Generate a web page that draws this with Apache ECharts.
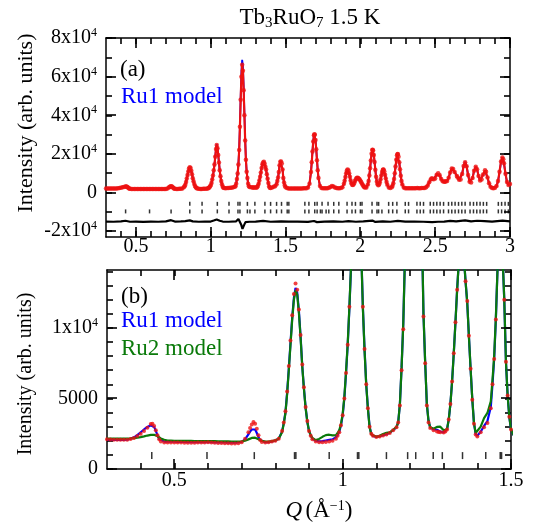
<!DOCTYPE html>
<html><head><meta charset="utf-8">
<script src="https://cdn.jsdelivr.net/npm/echarts@6/dist/echarts.min.js"></script>
<style>html,body{margin:0;padding:0;background:#fff}#c{width:539px;height:527px}</style>
</head><body><div id="c"></div>
<script>
// ---------- DATA ----------
const observed = [
[0.30,2100],[0.31,2090],[0.32,2080],[0.33,2070],[0.34,2070],[0.35,2075],[0.36,2080],[0.37,2120],[0.38,2200],[0.39,2330],[0.40,2500],[0.41,2700],[0.42,2930],[0.43,3180],[0.435,3200],[0.44,3050],[0.445,2750],[0.45,2400],[0.455,2100],[0.46,1950],[0.47,1880],[0.48,1870],[0.49,1880],[0.50,1880],[0.51,1870],[0.52,1870],[0.53,1860],[0.54,1860],[0.55,1860],[0.56,1865],[0.57,1870],[0.58,1870],[0.59,1880],[0.60,1890],[0.61,1870],[0.62,1860],[0.63,1850],[0.64,1840],[0.65,1830],[0.66,1820],[0.67,1810],[0.68,1810],[0.69,1830],[0.70,1900],[0.71,2150],[0.72,2600],[0.725,2900],[0.73,3150],[0.735,3330],[0.74,3200],[0.745,2850],[0.75,2400],[0.755,2050],[0.76,1920],[0.77,1880],[0.78,1900],[0.79,1950],[0.80,2000],[0.81,2150],[0.82,2700],[0.825,3300],[0.83,4100],[0.835,5500],[0.84,7300],[0.845,9100],[0.85,10900],[0.855,12400],[0.86,13150],[0.865,12700],[0.87,11300],[0.875,9500],[0.88,7400],[0.885,5800],[0.89,4400],[0.895,3400],[0.90,2700],[0.905,2350],[0.91,2100],[0.92,1950],[0.93,1900],[0.94,1900],[0.95,1920],[0.96,1950],[0.97,2000],[0.98,2150],[0.985,2350],[0.99,2600],[0.995,3100],[1.00,3800],[1.005,5000],[1.01,6800],[1.015,8800],[1.02,11500],[1.025,14500],[1.03,18500],[1.035,22500],[1.04,24600],[1.045,23000],[1.05,19500],[1.055,15500],[1.06,11500],[1.065,8500],[1.07,6000],[1.075,4300],[1.08,3000],[1.085,2500],[1.09,2350],[1.10,2260],[1.11,2300],[1.12,2380],[1.13,2450],[1.14,2550],[1.15,2750],[1.16,2950],[1.165,3300],[1.17,4500],[1.175,7000],[1.18,9900],[1.185,14500],[1.19,22000],[1.195,34000],[1.20,48000],[1.205,60000],[1.21,66100],[1.215,63000],[1.22,53000],[1.225,40000],[1.23,27000],[1.235,17000],[1.24,10800],[1.245,7500],[1.25,4500],[1.255,3300],[1.26,2900],[1.27,2750],[1.28,2650],[1.285,2620],[1.29,2600],[1.30,2580],[1.305,2650],[1.31,2800],[1.315,3500],[1.32,4600],[1.325,6200],[1.33,8200],[1.335,10400],[1.34,12700],[1.345,14600],[1.35,15600],[1.355,15900],[1.36,14900],[1.365,13300],[1.37,11900],[1.375,9450],[1.38,7100],[1.385,4900],[1.39,3200],[1.395,2450],[1.40,2300],[1.41,2600],[1.42,2950],[1.43,3260],[1.44,4300],[1.445,6000],[1.45,7800],[1.455,10600],[1.46,14200],[1.465,15900],[1.47,16100],[1.475,15000],[1.48,12000],[1.485,7600],[1.49,5200],[1.495,3700],[1.50,2800],[1.51,2300],[1.52,2150],
[1.53,2150],[1.54,2120],[1.55,2100],[1.56,2100],[1.57,2100],[1.58,2120],[1.59,2120],[1.60,2150],[1.61,2150],[1.62,2180],[1.63,2200],[1.64,2250],[1.65,2620],[1.66,4580],[1.67,10650],[1.675,15650],[1.68,21300],[1.685,26400],[1.69,29640],[1.693,30200],[1.695,29950],[1.70,27260],[1.705,22400],[1.71,16760],[1.715,11550],[1.72,7580],[1.73,3460],[1.74,2390],[1.75,2250],[1.76,2200],[1.77,2200],[1.78,2250],[1.79,2450],[1.80,2900],[1.81,3450],[1.82,3200],[1.83,2650],[1.84,2300],[1.85,2200],[1.86,2250],[1.87,2350],[1.88,2810],[1.89,4580],[1.895,6160],[1.90,8090],[1.905,10010],[1.91,11460],[1.915,12000],[1.92,11460],[1.925,10010],[1.93,8140],[1.935,6280],[1.94,4870],[1.945,4070],[1.95,3930],[1.955,4350],[1.96,5140],[1.965,6075],[1.97,6910],[1.975,7480],[1.98,7680],[1.985,7550],[1.99,7200],[1.995,6700],[2.00,6120],[2.005,5450],[2.01,4720],[2.015,4010],[2.02,3380],[2.025,2880],[2.03,2560],[2.04,2650],[2.05,4170],[2.055,6040],[2.06,8880],[2.065,12600],[2.07,16640],[2.075,20100],[2.08,22020],[2.082,22200],[2.085,21800],[2.09,19500],[2.095,15840],[2.10,11800],[2.105,8240],[2.11,5600],[2.115,4270],[2.12,3785],[2.125,4150],[2.13,5240],[2.135,6900],[2.14,8820],[2.145,10590],[2.15,11700],[2.153,11900],[2.155,11810],[2.16,10880],[2.165,9200],[2.17,7240],[2.175,5440],[2.18,4060],[2.19,2640],[2.20,2350],[2.21,2770],[2.215,3490],[2.22,4840],[2.225,7000],[2.23,10020],[2.235,13550],[2.24,16930],[2.245,19260],[2.249,19900],[2.25,19860],[2.255,18520],[2.26,15650],[2.265,12110],[2.27,8730],[2.275,6030],[2.28,4210],[2.29,2590],[2.30,2250],[2.31,2220],[2.32,2200],[2.33,2200],[2.34,2220],[2.35,2200],[2.36,2230],[2.37,2250],[2.38,2300],[2.39,2250],[2.40,2250],[2.41,2300],[2.42,2350],[2.43,2400],[2.44,2710],[2.45,3690],[2.46,5300],[2.47,6806],[2.476,7266],[2.48,7250],[2.49,6900],[2.50,7300],[2.51,9255],[2.52,10058],[2.53,8981],[2.54,7017],[2.55,5846],[2.56,5660],[2.565,5675],[2.57,5683],[2.58,6042],[2.59,7669],[2.60,10414],[2.611,12453],[2.62,12165],[2.63,10667],[2.645,8551],[2.65,7840],[2.66,6577],[2.67,6753],[2.68,9550],[2.69,13704],[2.70,15725],[2.71,13572],[2.72,9073],[2.73,5640],[2.74,5161],[2.75,7594],[2.76,11310],[2.771,13412],[2.78,12005],[2.79,8564],[2.80,6224],[2.81,6722],[2.82,9313],[2.833,11500],[2.84,10747],[2.85,7836],[2.86,4832],[2.87,3065],[2.88,2402],[2.89,2271],[2.90,2450],[2.91,3346],[2.92,5928],[2.93,10760],[2.94,16104],[2.949,18200],[2.955,17224],[2.96,15176],[2.97,9708],[2.98,5474],[2.99,3904],[3.00,4374]
];
const ru1Calc = [
[0.30,2080],[0.31,2075],[0.32,2070],[0.33,2065],[0.34,2060],[0.35,2065],[0.36,2080],[0.37,2140],[0.38,2240],[0.39,2400],[0.40,2600],[0.41,2800],[0.42,2980],[0.43,3100],[0.435,3120],[0.44,2980],[0.445,2700],[0.45,2380],[0.455,2120],[0.46,1990],[0.47,1940],[0.48,1930],[0.49,1930],[0.50,1930],[0.51,1925],[0.52,1920],[0.53,1915],[0.54,1910],[0.55,1910],[0.56,1905],[0.57,1900],[0.58,1900],[0.59,1900],[0.60,1900],[0.61,1895],[0.62,1890],[0.63,1885],[0.64,1880],[0.65,1880],[0.66,1875],[0.67,1870],[0.68,1870],[0.69,1880],[0.70,1920],[0.71,2100],[0.72,2450],[0.725,2650],[0.73,2800],[0.735,2900],[0.74,2800],[0.745,2550],[0.75,2250],[0.755,2050],[0.76,1950],[0.77,1900],[0.78,1910],[0.79,1960],[0.80,2010],[0.81,2150],[0.82,2650],[0.825,3250],[0.83,4000],[0.835,5400],[0.84,7100],[0.845,8900],[0.85,10700],[0.855,12100],[0.86,12830],[0.865,12500],[0.87,11200],[0.875,9400],[0.88,7300],[0.885,5700],[0.89,4350],[0.895,3350],[0.90,2700],[0.905,2400],[0.91,2150],[0.92,2000],[0.93,1960],[0.94,1980],[0.95,2020],[0.96,2060],[0.97,2100],[0.98,2250],[0.985,2400],[0.99,2650],[0.995,3100],[1.00,3800],[1.005,5000],[1.01,6800],[1.015,8800],[1.02,11400],[1.025,14400],[1.03,18400],[1.035,22600],[1.04,25000],[1.045,23400],[1.05,19700],[1.055,15600],[1.06,11500],[1.065,8500],[1.07,6000],[1.075,4300],[1.08,3000],[1.085,2500],[1.09,2350],[1.10,2280],[1.11,2320],[1.12,2400],[1.13,2470],[1.14,2570],[1.15,2760],[1.16,2960],[1.165,3300],[1.17,4600],[1.175,7200],[1.18,10300],[1.185,15000],[1.19,22500],[1.195,34500],[1.20,49500],[1.205,62500],[1.21,68700],[1.215,65500],[1.22,55000],[1.225,41500],[1.23,28000],[1.235,17500],[1.24,11000],[1.245,7600],[1.25,4600],[1.255,3400],[1.26,2950],[1.27,2800],[1.28,2780],[1.285,2720],[1.29,2650],[1.30,2600],[1.305,2680],[1.31,2820],[1.315,3500],[1.32,4600],[1.325,6200],[1.33,8200],[1.335,10400],[1.34,12700],[1.345,14700],[1.35,15800],[1.355,16000],[1.36,15000],[1.365,13300],[1.37,11800],[1.375,9400],[1.38,7100],[1.385,4950],[1.39,3250],[1.395,2500],[1.40,2350],[1.41,2650],[1.42,3050],[1.43,3400],[1.44,4400],[1.445,6000],[1.45,7800],[1.455,10600],[1.46,14200],[1.465,16000],[1.47,16200],[1.475,15100],[1.48,12000],[1.485,7600],[1.49,5200],[1.495,3700],[1.50,2800],[1.51,2300],[1.52,2150],
[1.53,2150],[1.54,2130],[1.55,2110],[1.56,2110],[1.57,2100],[1.58,2110],[1.59,2120],[1.60,2140],[1.61,2150],[1.62,2170],[1.63,2200],[1.64,2260],[1.65,2650],[1.66,4600],[1.67,10700],[1.675,15800],[1.68,21500],[1.685,26700],[1.69,30000],[1.693,30500],[1.695,30300],[1.70,27500],[1.705,22600],[1.71,16900],[1.715,11600],[1.72,7600],[1.73,3450],[1.74,2400],[1.75,2260],[1.76,2220],[1.77,2230],[1.78,2300],[1.79,2500],[1.80,2950],[1.81,3400],[1.82,3150],[1.83,2650],[1.84,2320],[1.85,2230],[1.86,2260],[1.87,2350],[1.88,2800],[1.89,4500],[1.895,6100],[1.90,8000],[1.905,9900],[1.91,11400],[1.915,11950],[1.92,11400],[1.925,9950],[1.93,8100],[1.935,6250],[1.94,4850],[1.945,4100],[1.95,4000],[1.955,4400],[1.96,5200],[1.965,6100],[1.97,6900],[1.975,7400],[1.98,7550],[1.985,7400],[1.99,7100],[1.995,6650],[2.00,6100],[2.005,5450],[2.01,4750],[2.015,4050],[2.02,3400],[2.025,2900],[2.03,2580],[2.04,2650],[2.05,4100],[2.055,5950],[2.06,8800],[2.065,12400],[2.07,16400],[2.075,19800],[2.08,21700],[2.082,21900],[2.085,21500],[2.09,19300],[2.095,15700],[2.10,11700],[2.105,8200],[2.11,5600],[2.115,4300],[2.12,3800],[2.125,4150],[2.13,5200],[2.135,6850],[2.14,8750],[2.145,10500],[2.15,11600],[2.153,11800],[2.155,11700],[2.16,10800],[2.165,9150],[2.17,7200],[2.175,5400],[2.18,4050],[2.19,2650],[2.20,2360],[2.21,2780],[2.215,3500],[2.22,4850],[2.225,7000],[2.23,10000],[2.235,13400],[2.24,16700],[2.245,19000],[2.249,19600],[2.25,19550],[2.255,18300],[2.26,15500],[2.265,12000],[2.27,8700],[2.275,6000],[2.28,4200],[2.29,2600],[2.30,2260],[2.31,2230],[2.32,2210],[2.33,2200],[2.34,2220],[2.35,2210],[2.36,2230],[2.37,2250],[2.38,2290],[2.39,2260],[2.40,2250],[2.41,2300],[2.42,2350],[2.43,2420],[2.44,2750],[2.45,3750],[2.46,5350],[2.47,6800],[2.476,7200],[2.48,7150],[2.49,6900],[2.50,7400],[2.51,9300],[2.52,10100],[2.53,9000],[2.54,7050],[2.55,5900],[2.56,5700],[2.565,5700],[2.57,5700],[2.58,6050],[2.59,7600],[2.60,10300],[2.611,12300],[2.62,12000],[2.63,10600],[2.645,8600],[2.65,7900],[2.66,6600],[2.67,6800],[2.68,9600],[2.69,13800],[2.70,15900],[2.71,13700],[2.72,9100],[2.73,5650],[2.74,5200],[2.75,7600],[2.76,11300],[2.771,13300],[2.78,11900],[2.79,8500],[2.80,6250],[2.81,6750],[2.82,9200],[2.833,11200],[2.84,10500],[2.85,7700],[2.86,4800],[2.87,3050],[2.88,2410],[2.89,2280],[2.90,2450],[2.91,3300],[2.92,5800],[2.93,10500],[2.94,15800],[2.949,17800],[2.955,16900],[2.96,15000],[2.97,9600],[2.98,5400],[2.99,3900],[3.00,4300]
];
const ru2Calc = [
[0.30,2160],[0.31,2160],[0.32,2160],[0.33,2155],[0.34,2150],[0.35,2150],[0.36,2160],[0.37,2170],[0.38,2190],[0.39,2220],[0.40,2260],[0.41,2310],[0.42,2370],[0.43,2420],[0.435,2430],[0.44,2420],[0.445,2380],[0.45,2320],[0.455,2240],[0.46,2160],[0.47,2070],[0.48,2020],[0.49,2010],[0.50,2000],[0.51,1995],[0.52,1990],[0.53,1990],[0.54,1990],[0.55,1990],[0.56,1985],[0.57,1980],[0.58,1980],[0.59,1980],[0.60,1980],[0.61,1975],[0.62,1970],[0.63,1965],[0.64,1960],[0.65,1960],[0.66,1955],[0.67,1950],[0.68,1950],[0.69,1950],[0.70,1960],[0.71,2000],[0.72,2100],[0.725,2160],[0.73,2200],[0.735,2240],[0.74,2220],[0.745,2170],[0.75,2110],[0.755,2040],[0.76,1990],[0.77,1950],[0.78,1950],[0.79,1980],[0.80,2030],[0.81,2150],[0.82,2600],[0.825,3200],[0.83,3950],[0.835,5300],[0.84,7000],[0.845,8800],[0.85,10550],[0.855,11950],[0.86,12660],[0.865,12350],[0.87,11050],[0.875,9300],[0.88,7250],[0.885,5650],[0.89,4300],[0.895,3350],[0.90,2700],[0.905,2400],[0.91,2200],[0.92,2050],[0.93,2130],[0.94,2280],[0.95,2400],[0.96,2430],[0.97,2380],[0.98,2400],[0.985,2550],[0.99,2750],[0.995,3200],[1.00,3900],[1.005,5100],[1.01,6900],[1.015,8900],[1.02,11500],[1.025,14500],[1.03,18500],[1.035,22600],[1.04,24900],[1.045,23300],[1.05,19600],[1.055,15500],[1.06,11400],[1.065,8400],[1.07,5950],[1.075,4250],[1.08,2950],[1.085,2450],[1.09,2320],[1.10,2280],[1.11,2350],[1.12,2480],[1.13,2560],[1.14,2600],[1.15,2780],[1.16,2980],[1.165,3300],[1.17,4600],[1.175,7200],[1.18,10300],[1.185,15000],[1.19,22500],[1.195,34500],[1.20,49500],[1.205,62500],[1.21,68700],[1.215,65500],[1.22,55000],[1.225,41500],[1.23,28000],[1.235,17500],[1.24,11000],[1.245,7600],[1.25,4600],[1.255,3400],[1.26,2950],[1.27,2850],[1.28,2980],[1.285,3020],[1.29,3000],[1.30,2750],[1.305,2720],[1.31,2820],[1.315,3500],[1.32,4600],[1.325,6200],[1.33,8200],[1.335,10400],[1.34,12700],[1.345,14700],[1.35,15800],[1.355,16000],[1.36,15000],[1.365,13300],[1.37,11800],[1.375,9400],[1.38,7100],[1.385,4950],[1.39,3250],[1.395,2550],[1.40,2450],[1.41,3000],[1.42,3600],[1.43,3970],[1.44,4800],[1.445,6300],[1.45,8000],[1.455,10700],[1.46,14200],[1.465,16000],[1.47,16200],[1.475,15100],[1.48,12000],[1.485,7600],[1.49,5200],[1.495,3700],[1.50,2800],[1.51,2300],[1.52,2150]
];
const difference = [
[0.30,-15000],[0.35,-15100],[0.40,-14900],[0.43,-14600],[0.46,-15100],[0.50,-15050],[0.55,-15150],[0.60,-15000],[0.65,-15100],[0.70,-14900],[0.735,-14300],[0.76,-15000],[0.80,-14900],[0.83,-14800],[0.86,-14400],[0.88,-14900],[0.92,-15100],[0.96,-15050],[1.00,-15000],[1.02,-14500],[1.04,-13900],[1.06,-14600],[1.08,-15000],[1.12,-15100],[1.17,-14900],[1.185,-13700],[1.195,-14300],[1.203,-16500],[1.212,-18800],[1.222,-17000],[1.232,-15300],[1.26,-15100],[1.30,-15000],[1.35,-14700],[1.40,-15100],[1.47,-14900],[1.52,-15050],[1.58,-15000],[1.65,-15200],[1.69,-14700],[1.71,-15300],[1.76,-15000],[1.82,-14950],[1.88,-15100],[1.92,-14800],[1.97,-15100],[2.02,-14950],[2.08,-14500],[2.10,-15200],[2.15,-14900],[2.20,-15100],[2.25,-14700],[2.30,-15050],[2.36,-15000],[2.42,-15100],[2.48,-15250],[2.52,-15100],[2.56,-15000],[2.60,-14700],[2.64,-14900],[2.70,-14400],[2.74,-14900],[2.78,-14600],[2.83,-14800],[2.88,-15000],[2.95,-14500],[3.00,-14900]
];
const braggRow1 = [0.86,0.942,1.044,1.122,1.182,1.195,1.245,1.295,1.362,1.40,1.44,1.473,1.511,1.522,1.629,1.656,1.695,1.711,1.744,1.784,1.822,1.856,1.911,1.944,1.967,2.000,2.011,2.078,2.111,2.122,2.189,2.216,2.244,2.300,2.322,2.378,2.400,2.422,2.467,2.489,2.511,2.533,2.556,2.589,2.611,2.633,2.656,2.678,2.700,2.733,2.756,2.778,2.800,2.822,2.844,2.922,2.944,2.967,2.989];
const braggRow2 = [0.431,0.591,0.735,0.86,0.942,1.044,1.122,1.182,1.195,1.245,1.262,1.295,1.362,1.40,1.44,1.473,1.511,1.522,1.629,1.656,1.695,1.711,1.733,1.744,1.771,1.789,1.822,1.856,1.911,1.944,1.967,2.000,2.011,2.078,2.111,2.122,2.144,2.189,2.216,2.244,2.300,2.322,2.378,2.400,2.422,2.467,2.489,2.511,2.533,2.556,2.589,2.611,2.633,2.656,2.678,2.700,2.733,2.756,2.778,2.800,2.822,2.844,2.922,2.944,2.967,2.989];
const braggZoom = [0.433,0.597,0.7375,0.857,0.861,0.96,1.044,1.048,1.130,1.193,1.217,1.269,1.296,1.356,1.425,1.468,1.472];
const xMajorTop = [0.5,1,1.5,2,2.5,3];
const xMinorTop = [0.4,0.6,0.7,0.8,0.9,1.1,1.2,1.3,1.4,1.6,1.7,1.8,1.9,2.1,2.2,2.3,2.4,2.6,2.7,2.8,2.9];
const yMajorTop = [-20000,0,20000,40000,60000,80000];
const yMinorTop = [-10000,10000,30000,50000,70000];
const xMajorBot = [0.5,1,1.5];
const xMinorBot = [0.4,0.6,0.7,0.8,0.9,1.1,1.2,1.3,1.4];
const yMajorBot = [0,5000,10000];
const yMinorBot = [1000,2000,3000,4000,6000,7000,8000,9000,11000,12000,13000,14000];

// ---------- CHART ----------
const FONT = '"Liberation Serif","Times New Roman",serif';
const RED = '#ee1111', BLUE = '#0000ff', GREEN = '#0a7a0a';
const chart = echarts.init(document.getElementById('c'), null, {renderer: 'canvas'});
const lineAx = {color: '#000', width: 1.5};
const TICK_MAJOR = 10, TICK_MINOR = 6;
const tickStyle = {color: '#000', width: 1.6};

function xAxesFor(gi, min, max, major, minor, fs, margin) {
  const all = major.concat(minor);
  const base = {gridIndex: gi, type: 'value', min: min, max: max, splitLine: {show: false},
                axisTick: {show: true, inside: true, length: TICK_MINOR, customValues: all, lineStyle: tickStyle}};
  return [
    Object.assign({}, base, {position: 'bottom', axisLine: {show: true, onZero: false, lineStyle: lineAx},
      axisLabel: {show: true, customValues: major, margin: margin, color: '#000', fontSize: fs, fontFamily: FONT, formatter: v => String(v)}}),
    Object.assign({}, base, {position: 'top', axisLine: {show: true, onZero: false, lineStyle: lineAx}, axisLabel: {show: false}})
  ];
}
function sciFmt(v) {
  if (v === 0) return '{n|0}';
  if (Math.abs(v) >= 10000) return '{n|' + (v / 10000) + 'x10}{s|4}';
  return '{n|' + v + '}';
}
function yAxesFor(gi, min, max, major, minor, fs) {
  const all = major.concat(minor);
  const base = {gridIndex: gi, type: 'value', min: min, max: max, splitLine: {show: false},
                axisTick: {show: true, inside: true, length: TICK_MINOR, customValues: all, lineStyle: tickStyle}};
  return [
    Object.assign({}, base, {position: 'left', axisLine: {show: true, onZero: false, lineStyle: lineAx},
      axisLabel: {show: true, customValues: major, margin: 9, formatter: sciFmt,
        rich: {n: {fontSize: fs, fontFamily: FONT, color: '#000'},
               s: {fontSize: Math.round(fs * 0.62), fontFamily: FONT, color: '#000', padding: [0, 0, 10, 0]}}}}),
    Object.assign({}, base, {position: 'right', axisLine: {show: true, onZero: false, lineStyle: lineAx}, axisLabel: {show: false}})
  ];
}

const TOP_ROW1 = -5850, TOP_ROW2 = -9750, BOT_ROW = 950;
const lowQ = arr => arr.filter(p => p[0] <= 1.52);

const series = [
  // panel (a)
  {type: 'line', xAxisIndex: 0, yAxisIndex: 0, data: ru1Calc, showSymbol: false, z: 2,
   lineStyle: {color: BLUE, width: 1.8}, silent: true},
  {type: 'line', xAxisIndex: 0, yAxisIndex: 0, data: observed, showSymbol: false, z: 3,
   lineStyle: {color: RED, width: 2.2}, silent: true},
  {type: 'scatter', xAxisIndex: 0, yAxisIndex: 0, data: observed, symbol: 'circle', symbolSize: 4.5, z: 4,
   itemStyle: {color: RED}, silent: true},
  {type: 'line', xAxisIndex: 0, yAxisIndex: 0, data: difference, showSymbol: false, z: 2,
   lineStyle: {color: '#000', width: 2.2}, silent: true},
  {type: 'scatter', xAxisIndex: 0, yAxisIndex: 0, data: braggRow1.map(q => [q, TOP_ROW1]), symbol: 'rect',
   symbolSize: [1.5, 4], itemStyle: {color: '#000'}, silent: true},
  {type: 'scatter', xAxisIndex: 0, yAxisIndex: 0, data: braggRow2.map(q => [q, TOP_ROW2]), symbol: 'rect',
   symbolSize: [1.5, 4], itemStyle: {color: '#000'}, silent: true},
  // panel (b)
  {type: 'line', xAxisIndex: 2, yAxisIndex: 2, data: lowQ(ru1Calc), showSymbol: false, z: 2,
   lineStyle: {color: BLUE, width: 2.2}, silent: true},
  {type: 'line', xAxisIndex: 2, yAxisIndex: 2, data: ru2Calc, showSymbol: false, z: 3,
   lineStyle: {color: GREEN, width: 2.2}, silent: true},
  {type: 'scatter', xAxisIndex: 2, yAxisIndex: 2, data: lowQ(observed), symbol: 'circle', symbolSize: 4, z: 4,
   itemStyle: {color: RED}, silent: true},
  {type: 'scatter', xAxisIndex: 2, yAxisIndex: 2, data: braggZoom.map(q => [q, BOT_ROW]), symbol: 'rect',
   symbolSize: [1.5, 7], itemStyle: {color: '#000'}, silent: true}
];

const texts = [
  {type: 'text', x: 310, y: 18, style: {text: '{n|Tb}{b|3}{n|RuO}{b|7}{n| 1.5 K}', align: 'center', verticalAlign: 'middle',
    rich: {n: {fontSize: 23, fontFamily: FONT, color: '#000'},
           b: {fontSize: 15, fontFamily: FONT, color: '#000', padding: [10, 0, 0, 0]}}}},
  {type: 'text', x: 26, y: 123, rotation: Math.PI / 2,
    style: {text: 'Intensity (arb. units)', font: '22px ' + FONT, fill: '#000', align: 'center', verticalAlign: 'middle'}},
  {type: 'text', x: 26, y: 374, rotation: Math.PI / 2,
    style: {text: 'Intensity (arb. units)', font: '20px ' + FONT, fill: '#000', align: 'center', verticalAlign: 'middle'}},
  {type: 'text', x: 120, y: 70, style: {text: '(a)', font: '23px ' + FONT, fill: '#000', align: 'left', verticalAlign: 'middle'}},
  {type: 'text', x: 121, y: 97, style: {text: 'Ru1 model', font: '23px ' + FONT, fill: BLUE, align: 'left', verticalAlign: 'middle'}},
  {type: 'text', x: 121, y: 297, style: {text: '(b)', font: '23px ' + FONT, fill: '#000', align: 'left', verticalAlign: 'middle'}},
  {type: 'text', x: 121, y: 321, style: {text: 'Ru1 model', font: '23px ' + FONT, fill: BLUE, align: 'left', verticalAlign: 'middle'}},
  {type: 'text', x: 121, y: 349, style: {text: 'Ru2 model', font: '23px ' + FONT, fill: GREEN, align: 'left', verticalAlign: 'middle'}},
  {type: 'text', x: 319, y: 511, style: {text: '{i|Q} {n|(Å}{s|−1}{n|)}', align: 'center', verticalAlign: 'middle',
    rich: {i: {fontSize: 23, fontFamily: FONT, fontStyle: 'italic', color: '#000'},
           n: {fontSize: 23, fontFamily: FONT, color: '#000'},
           s: {fontSize: 14, fontFamily: FONT, color: '#000', padding: [0, 0, 10, 0]}}}}
];

const option = {
  animation: false,
  backgroundColor: '#fff',
  grid: [
    {left: 106, top: 38, width: 404, height: 199},
    {left: 107, top: 270, width: 404, height: 199}
  ],
  xAxis: xAxesFor(0, 0.3, 3.0, xMajorTop, xMinorTop, 20, 0).concat(xAxesFor(1, 0.3, 1.5, xMajorBot, xMinorBot, 20, 2)),
  yAxis: yAxesFor(0, -23000, 80000, yMajorTop, yMinorTop, 20).concat(yAxesFor(1, 0, 14100, yMajorBot, yMinorBot, 20)),
  series: series,
  graphic: texts
};
chart.setOption(option);

// longer inward major ticks on all four sides, positioned with the axes' own scales
try {
  const frameTickEls = function (axisIdx, xr, yr, xMajor, yMajor) {
    const finder = {xAxisIndex: axisIdx, yAxisIndex: axisIdx};
    const lb = chart.convertToPixel(finder, [xr[0], yr[0]]);
    const rt = chart.convertToPixel(finder, [xr[1], yr[1]]);
    const left = lb[0], bottom = lb[1], right = rt[0], top = rt[1];
    const st = {stroke: '#000', lineWidth: 1.6};
    const els = [];
    xMajor.forEach(v => {
      const x = Math.round(chart.convertToPixel(finder, [v, yr[0]])[0]);
      els.push({type: 'line', silent: true, z: 100, shape: {x1: x, y1: bottom, x2: x, y2: bottom - TICK_MAJOR}, style: st});
      els.push({type: 'line', silent: true, z: 100, shape: {x1: x, y1: top, x2: x, y2: top + TICK_MAJOR}, style: st});
    });
    yMajor.forEach(v => {
      const y = Math.round(chart.convertToPixel(finder, [xr[0], v])[1]);
      els.push({type: 'line', silent: true, z: 100, shape: {x1: left, y1: y, x2: left + TICK_MAJOR, y2: y}, style: st});
      els.push({type: 'line', silent: true, z: 100, shape: {x1: right, y1: y, x2: right - TICK_MAJOR, y2: y}, style: st});
    });
    return els;
  };
  const tickEls = frameTickEls(0, [0.3, 3.0], [-23000, 80000], xMajorTop, yMajorTop)
    .concat(frameTickEls(2, [0.3, 1.5], [0, 14100], xMajorBot, yMajorBot));
  chart.setOption({graphic: texts.concat(tickEls)});
} catch (e) { /* keep the chart as drawn */ }
</script>
</body></html>
